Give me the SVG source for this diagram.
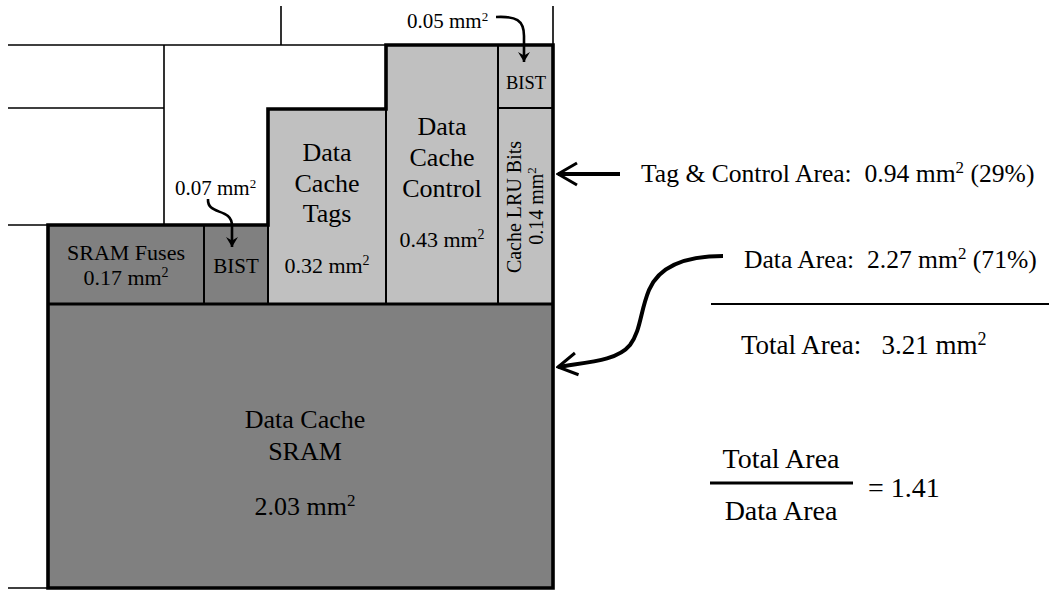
<svg xmlns="http://www.w3.org/2000/svg" width="1049" height="596" viewBox="0 0 1049 596">
  <style>
    text { font-family: "Liberation Serif", "Times New Roman", serif; fill: #000; }
    .dark { fill: #808080; stroke: #000; stroke-width: 2; }
    .light { fill: #c0c0c0; stroke: #000; stroke-width: 2; }
    .thin { stroke: #000; stroke-width: 1.6; fill: none; }
    .outline { stroke: #000; stroke-width: 3.6; fill: none; stroke-linejoin: miter; }
    .t26 { font-size: 26px; }
    .t22 { font-size: 22px; }
    .t21 { font-size: 21px; }
    .t20 { font-size: 20px; }
    .t18 { font-size: 18.5px; }
    .c { text-anchor: middle; }
    .lead { stroke: #000; stroke-width: 2.6; fill: none; }
    .big { stroke: #000; stroke-width: 4; fill: none; }
  </style>
  <defs>
    <marker id="small" viewBox="-11 -7 12 14" refX="0" refY="0" markerWidth="12" markerHeight="14" markerUnits="userSpaceOnUse" orient="auto">
      <path d="M-10,-6 L0,0 L-10,6 L-6.5,0 Z" fill="#000"/>
    </marker>
    <marker id="open" viewBox="-22 -14 24 28" refX="0" refY="0" markerWidth="24" markerHeight="28" markerUnits="userSpaceOnUse" orient="auto">
      <path d="M-19,-11 L0,0 L-19,11" fill="none" stroke="#000" stroke-width="3"/>
    </marker>
  </defs>

  <!-- neighbouring floorplan edges -->
  <g id="surroundings">
    <path class="thin" d="M8,45 H386 M281,6 V45 M553,6 V45 M164,45 V225 M8,108 H164 M8,225 H48 M8,588 H48"/>
  </g>

  <!-- blocks -->
  <g id="sram-fuses">
    <rect class="dark" x="48" y="225" width="156" height="79"/>
    <text class="t22 c" x="126" y="260">SRAM Fuses</text>
    <text class="t22 c" x="126" y="285">0.17 mm<tspan dy="-8" font-size="14">2</tspan></text>
  </g>
  <g id="bist-fuses">
    <rect class="dark" x="204" y="225" width="64" height="79"/>
    <text class="t21 c" x="236" y="273">BIST</text>
  </g>
  <g id="tags">
    <rect class="light" x="268" y="109" width="118" height="195"/>
    <text class="t26 c" x="327" y="161">Data</text>
    <text class="t26 c" x="327" y="192">Cache</text>
    <text class="t26 c" x="327" y="222">Tags</text>
    <text class="t22 c" x="327" y="273">0.32 mm<tspan dy="-8" font-size="14">2</tspan></text>
  </g>
  <g id="control">
    <rect class="light" x="386" y="45" width="112" height="259"/>
    <text class="t26 c" x="442" y="135">Data</text>
    <text class="t26 c" x="442" y="166">Cache</text>
    <text class="t26 c" x="442" y="197">Control</text>
    <text class="t22 c" x="442" y="247">0.43 mm<tspan dy="-8" font-size="14">2</tspan></text>
  </g>
  <g id="bist-top">
    <rect class="light" x="498" y="45" width="55" height="63"/>
    <text class="t18 c" x="526" y="89">BIST</text>
  </g>
  <g id="lru-bits">
    <rect class="light" x="498" y="108" width="55" height="196"/>
    <text class="t20 c" transform="translate(521,207) rotate(-90)">Cache LRU Bits</text>
    <text class="t20 c" transform="translate(543,206) rotate(-90)">0.14 mm<tspan dy="-7" font-size="13">2</tspan></text>
  </g>
  <g id="sram">
    <rect class="dark" x="48" y="304" width="505" height="284"/>
    <text class="t26 c" x="305" y="428">Data Cache</text>
    <text class="t26 c" x="305" y="460">SRAM</text>
    <text class="t26 c" x="305" y="515">2.03 mm<tspan dy="-9" font-size="17">2</tspan></text>
  </g>

  <!-- heavy boundary of the cache -->
  <g id="boundary">
    <path class="outline" d="M48,588 V225 H268 V109 H386 V45 H553 V588 Z"/>
    <path d="M48,304 H553" stroke="#000" stroke-width="3"/>
  </g>

  <!-- callouts and arrows -->
  <g id="connectors">
    <path class="lead" d="M496,17 C516,16 524,20 524,36 L524,62" marker-end="url(#small)"/>
    <path class="lead" d="M208,199 C207,216 232,207 232,226 L232,247" marker-end="url(#small)"/>
    <path class="big" d="M620,174 L558,174" marker-end="url(#open)"/>
    <path class="big" d="M723,256 C688,256 660,264 649,290 C640,312 641,330 630,345 C617,361 588,362 558,367" marker-end="url(#open)"/>
  </g>

  <g id="callout-labels">
    <text class="t21" x="407" y="28">0.05 mm<tspan dy="-7" font-size="13">2</tspan></text>
    <text class="t21" x="175" y="195">0.07 mm<tspan dy="-7" font-size="13">2</tspan></text>
  </g>

  <!-- area summary -->
  <g id="summary">
    <text x="641" y="182" font-size="25.6">Tag &amp; Control Area:&#160; 0.94 mm<tspan dy="-9" font-size="17">2</tspan><tspan dy="9"> (29%)</tspan></text>
    <text x="744" y="268" font-size="25.6">Data Area:&#160; 2.27 mm<tspan dy="-9" font-size="17">2</tspan><tspan dy="9"> (71%)</tspan></text>
    <path d="M711,304 H1049" stroke="#000" stroke-width="2"/>
    <text x="741" y="354" font-size="27">Total Area:&#160;&#160; 3.21 mm<tspan dy="-9" font-size="18">2</tspan></text>
  </g>
  <g id="ratio">
    <text class="c" x="781" y="468" font-size="28">Total Area</text>
    <path d="M710,483 H853" stroke="#000" stroke-width="3"/>
    <text class="c" x="781" y="520" font-size="28">Data Area</text>
    <text x="868" y="497" font-size="28">= 1.41</text>
  </g>
</svg>
